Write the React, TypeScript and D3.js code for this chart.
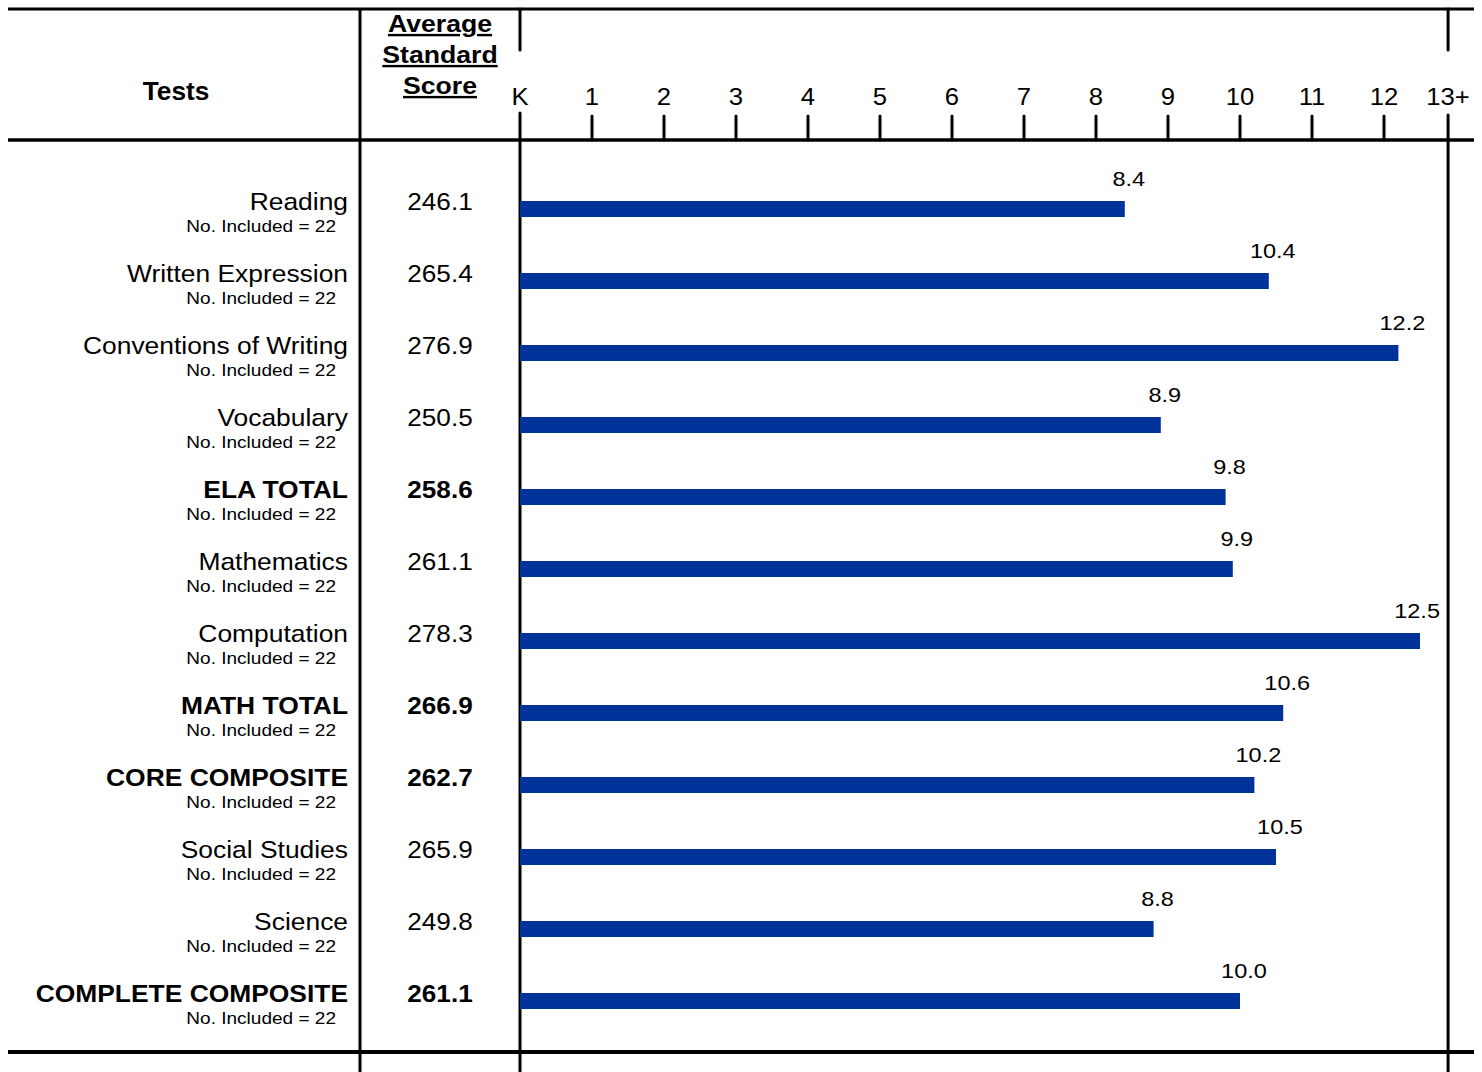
import React from "react";
import * as d3 from "d3";

const tests = [
  "Reading",
  "Written Expression",
  "Conventions of Writing",
  "Vocabulary",
  "ELA TOTAL",
  "Mathematics",
  "Computation",
  "MATH TOTAL",
  "CORE COMPOSITE",
  "Social Studies",
  "Science",
  "COMPLETE COMPOSITE",
];
const boldTests = ["ELA TOTAL", "MATH TOTAL", "CORE COMPOSITE", "COMPLETE COMPOSITE"];
const scores = ["246.1", "265.4", "276.9", "250.5", "258.6", "261.1", "278.3", "266.9", "262.7", "265.9", "249.8", "261.1"];
const gradeEquiv = [8.4, 10.4, 12.2, 8.9, 9.8, 9.9, 12.5, 10.6, 10.2, 10.5, 8.8, 10.0];
const included = [22, 22, 22, 22, 22, 22, 22, 22, 22, 22, 22, 22];
const tickValues = [1, 2, 3, 4, 5, 6, 7, 8, 9, 10, 11, 12];
const tickLabels = ["K", "1", "2", "3", "4", "5", "6", "7", "8", "9", "10", "11", "12"];
const topLabel = "13+";
const topValue = 12.89;

const W = 1482;
const H = 1072;
const FONT = "'Liberation Sans', Arial, Helvetica, sans-serif";

function T(props: {
  x: number;
  y: number;
  s?: number;
  size: number;
  anchor: string;
  bold?: boolean;
  underline?: boolean;
  children: React.ReactNode;
}) {
  const { x, y, s = 1.1, size, anchor, bold, underline, children } = props;
  return (
    <text
      transform={`translate(${x},${y}) scale(${s},1)`}
      fontSize={size}
      fontWeight={bold ? "bold" : "normal"}
      textAnchor={anchor}
      textDecoration={underline ? "underline" : undefined}
      fill="#000"
    >
      {children}
    </text>
  );
}

export default function App() {
  const x = d3.scaleLinear().domain([0, 13]).range([520, 1456]);
  const y = d3.scaleBand<string>().domain(tests).range([173, 173 + 72 * tests.length]);
  const x0 = x(0);
  const xEnd = x(topValue);

  return (
    <svg
      width={W}
      height={H}
      style={{ position: "absolute", left: 0, top: 0, background: "#fff" }}
      fontFamily={FONT}
    >
      <rect x={0} y={0} width={W} height={H} fill="#fff" />
      {/* horizontal rules */}
      <line x1={8} x2={1474} y1={9} y2={9} stroke="#000" strokeWidth={3} />
      <line x1={8} x2={1474} y1={140} y2={140} stroke="#000" strokeWidth={3.5} />
      <line x1={8} x2={1474} y1={1052} y2={1052} stroke="#000" strokeWidth={4} />
      {/* vertical rules */}
      <line x1={360} x2={360} y1={9} y2={H} stroke="#000" strokeWidth={3} />
      <line x1={x0} x2={x0} y1={9} y2={50} stroke="#000" strokeWidth={3} strokeLinecap="round" />
      <line x1={x0} x2={x0} y1={113} y2={H} stroke="#000" strokeWidth={3} strokeLinecap="round" />
      <line x1={xEnd} x2={xEnd} y1={9} y2={50} stroke="#000" strokeWidth={3} strokeLinecap="round" />
      <line x1={xEnd} x2={xEnd} y1={115} y2={H} stroke="#000" strokeWidth={3} strokeLinecap="round" />
      {/* ticks */}
      {tickValues.map((t) => (
        <line key={t} x1={x(t)} x2={x(t)} y1={116} y2={140} stroke="#000" strokeWidth={3} strokeLinecap="round" />
      ))}
      {tickLabels.map((l, i) => (
        <T key={l} x={x(i)} y={105} size={24} s={1.07} anchor="middle">
          {l}
        </T>
      ))}
      <T x={xEnd} y={105} size={24} s={1.07} anchor="middle">
        {topLabel}
      </T>
      {/* headers */}
      <T x={176} y={100} size={25} s={1.05} bold anchor="middle">
        Tests
      </T>
      {["Average", "Standard", "Score"].map((s, i) => (
        <T key={s} x={440} y={32 + 31 * i} size={24} s={1.11} bold underline anchor="middle">
          {s}
        </T>
      ))}
      {/* rows */}
      {tests.map((t, i) => {
        const b = y(t)!;
        const bold = boldTests.includes(t);
        const v = gradeEquiv[i];
        const lx = Math.min(x(v) + 4, xEnd - 31);
        return (
          <g key={t}>
            <T x={348} y={b + 37} size={24} s={1.1} bold={bold} anchor="end">
              {t}
            </T>
            <T x={336} y={b + 59} size={17} s={1.12} anchor="end">
              {`No. Included = ${included[i]}`}
            </T>
            <T x={440} y={b + 37} size={24} s={1.09} bold={bold} anchor="middle">
              {scores[i]}
            </T>
            <rect x={x0} y={b + 28} width={x(v) - x0} height={16} fill="#003399" />
            <T x={lx} y={b + 13} size={21} s={1.12} anchor="middle">
              {v.toFixed(1)}
            </T>
          </g>
        );
      })}
    </svg>
  );
}
